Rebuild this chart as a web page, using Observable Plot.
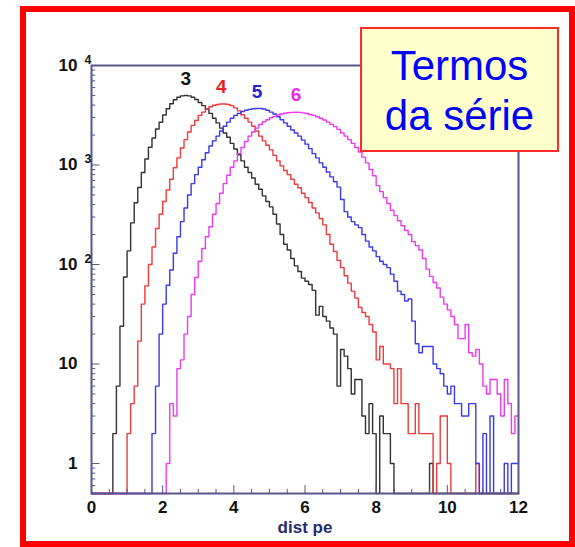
<!DOCTYPE html>
<html>
<head>
<meta charset="utf-8">
<script src="https://cdn.jsdelivr.net/npm/d3@7"></script>
<script src="https://cdn.jsdelivr.net/npm/@observablehq/plot@0.6"></script>
<style>
  body { margin: 0; background: #fff; }
  #wrap { position: relative; width: 575px; height: 547px; overflow: hidden; font-family: "Liberation Sans", Arial, sans-serif; }
  #chart { position: absolute; left: 0; top: 0; }
  #redframe { position: absolute; left: 20px; top: 6px; width: 543px; height: 529px; border: 6px solid #ff0000; }
  #legend { position: absolute; left: 360px; top: 27px; width: 195px; height: 109px; background: #ffffcc; border: 2px solid #ff2a2a;
            color: #0000ff; font-size: 42px; line-height: 50px; text-align: center; padding-top: 12px; box-sizing: content-box; }
  #legend div { white-space: nowrap; }
</style>
</head>
<body>
<div id="wrap">
  <div id="chart"></div>
  <div id="redframe"></div>
  <div id="legend"><div>Termos</div><div>da série</div></div>
</div>
<script>
// ---- data (bin width 0.1 from 0 to 12) ----
const binWidth = 0.1;
const seriesNames = ["3", "4", "5", "6"];
const series3 = [
  0,0,0,0,0,0,2,6,24,75,
  137,262,418,594,840,1150,1510,1870,2300,2690,
  3180,3670,4120,4520,4790,4950,5000,4950,4800,4550,
  4250,3950,3650,3300,2950,2650,2350,2100,1900,1650,
  1450,1270,1100,950,840,740,640,570,490,430,
  380,320,255,200,160,140,115,97,85,73,
  68,63,55,31,38,30,27,23,20,6,
  14,12,9,5,7,7,3,2,4,2,
  0,3,2,2,1,0,0,0,0,0,
  0,0,0,0,0,1,0,0,0,0,
  0,0,0,0,0,0,0,0,0,0,
  0,0,0,0,0,0,0,0,0,0
];
const series4 = [
  0,0,0,0,0,0,0,0,0,0,
  2,4,6,17,40,61,100,150,230,320,
  430,560,720,940,1180,1480,1800,2150,2500,2800,
  3150,3400,3650,3850,3980,4050,4100,4100,4050,3950,
  3750,3500,3200,2950,2700,2450,2200,1950,1750,1580,
  1420,1250,1100,980,880,800,720,640,590,520,
  470,420,370,330,290,250,200,160,135,110,
  93,77,65,54,46,37,33,30,25,21,
  11,15,10,10,9,4,9,4,4,2,
  2,4,2,2,2,2,0,1,3,3,
  1,0,0,0,0,0,0,0,1,0,
  0,0,0,0,0,0,0,0,0,0
];
const series5 = [
  0,0,0,0,0,0,0,0,0,0,
  0,0,0,0,0,0,0,2,6,20,
  40,62,88,130,190,270,370,500,650,800,
  950,1130,1330,1550,1750,1950,2200,2450,2700,2950,
  3150,3300,3450,3550,3620,3680,3700,3700,3650,3550,
  3400,3250,3050,2850,2650,2450,2250,2100,1950,1780,
  1620,1460,1300,1180,1050,950,850,760,680,600,
  450,340,300,270,250,235,200,172,150,137,
  120,108,100,93,80,68,54,50,43,45,
  27,16,13,15,15,15,10,9,8,6,
  5,6,4,4,3,3,4,4,1,0,
  2,0,3,0,0,0,1,0,1,1
];
const series6 = [
  0,0,0,0,0,0,0,0,0,0,
  0,0,0,0,0,0,0,0,0,0,
  0,1,4,3,9,11,20,30,50,74,
  108,145,190,240,320,410,520,650,790,950,
  1100,1300,1500,1720,1950,2150,2350,2550,2720,2850,
  2980,3080,3180,3260,3310,3350,3380,3390,3380,3340,
  3290,3220,3150,3050,2950,2830,2700,2560,2430,2280,
  2100,1950,1800,1650,1500,1350,1200,1050,900,780,
  620,540,470,410,350,310,275,245,220,200,
  170,155,140,115,90,76,66,58,47,40,
  35,30,25,18,18,25,13,12,14,10,
  6,5,7,7,5,3,7,4,2,3
];
const seriesValues = [series3, series4, series5, series6];
const lineColors = ["#333333", "#ee3a3a", "#3a3aee", "#ee3aee"];
const labelColors = ["#111111", "#ee1c1c", "#2424cc", "#ee2aee"];

const xTicks = [0, 2, 4, 6, 8, 10, 12];
const yMajor = [1, 10, 100, 1000, 10000];
const yLabelBase = ["1", "10", "10", "10", "10"];
const yLabelExp = ["", "", "2", "3", "4"];
const xTitle = "dist pe";

const yMin = 0.5, yMax = 10000;
const axisColor = "#57578a";

// minor tick positions
const yMinor = [];
for (const d of [0.1, 1, 10, 100, 1000]) for (let k = 2; k <= 9; k++) { const v = d * k; if (v > yMin && v < yMax) yMinor.push(v); }
const xMinor = d3.range(0, 12.001, 0.5).filter(v => !xTicks.includes(v));

function stepPoints(values) {
  const pts = values.map((v, i) => ({x: i * binWidth, y: Math.max(v, yMin)}));
  pts.push({x: values.length * binWidth, y: Math.max(values[values.length - 1], yMin)});
  return pts;
}

const peaks = seriesValues.map((vals, s) => {
  const i = d3.maxIndex(vals);
  return {x: (i + 0.5) * binWidth, y: vals[i], name: seriesNames[s], color: labelColors[s]};
});

const marks = [];
seriesValues.forEach((vals, s) => {
  marks.push(Plot.line(stepPoints(vals), {x: "x", y: "y", curve: "step-after", stroke: lineColors[s], strokeWidth: 1.4}));
});
marks.push(
  Plot.ruleY(yMinor, {y: d => d, x1: 0, x2: 0.12, stroke: axisColor, strokeWidth: 1}),
  Plot.ruleY(yMajor, {y: d => d, x1: 0, x2: 0.24, stroke: axisColor, strokeWidth: 1}),
  Plot.ruleX(xMinor, {x: d => d, y1: yMin, y2: yMin * 1.1, stroke: axisColor, strokeWidth: 1}),
  Plot.ruleX(xTicks, {x: d => d, y1: yMin, y2: yMin * 1.2, stroke: axisColor, strokeWidth: 1}),
  Plot.frame({stroke: axisColor, strokeWidth: 2}),
  Plot.text(yMajor, {x: 0, y: d => d, text: (d, i) => yLabelBase[i], dx: -14, textAnchor: "end", fontSize: 17, fontWeight: "bold", fill: "#111"}),
  Plot.text(yMajor, {x: 0, y: d => d, text: (d, i) => yLabelExp[i], dx: -7, dy: -6, textAnchor: "start", fontSize: 12.5, fontWeight: "bold", fill: "#111"}),
  Plot.text(xTicks, {x: d => d, y: yMin, text: d => String(d), dy: 14, fontSize: 17, fontWeight: "bold", fill: "#111"}),
  Plot.text([xTitle], {x: 6, y: yMin, text: d => d, dy: 34, fontSize: 17, fontWeight: "bold", fill: "#2a2a6e"}),
  Plot.text(peaks, {x: "x", y: "y", text: "name", fill: "color", dy: -17, fontSize: 19, fontWeight: "bold"})
);

const chart = Plot.plot({
  width: 575,
  height: 547,
  marginLeft: 91,
  marginRight: 57,
  marginTop: 65,
  marginBottom: 54,
  style: {fontFamily: "'Liberation Sans', Arial, sans-serif", background: "transparent", overflow: "visible"},
  x: {domain: [0, 12], axis: null},
  y: {type: "log", domain: [yMin, yMax], axis: null},
  marks
});
document.getElementById("chart").appendChild(chart);
</script>
</body>
</html>
